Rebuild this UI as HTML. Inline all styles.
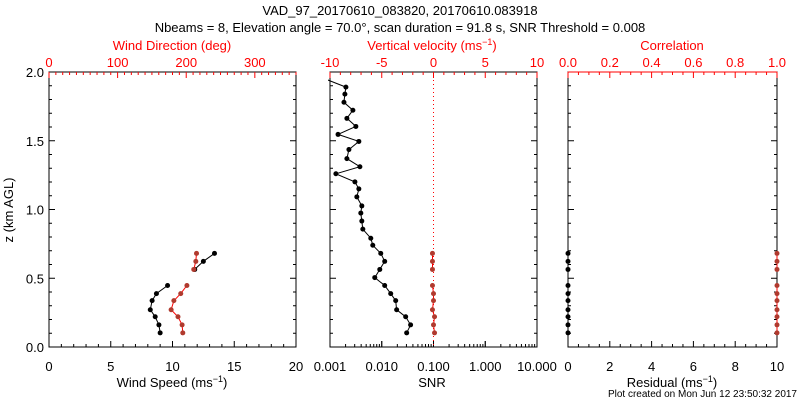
<!DOCTYPE html>
<html><head><meta charset="utf-8"><style>
body{margin:0;background:#fff;}
svg{display:block;font-family:"Liberation Sans",sans-serif;}
</style></head><body>
<svg id="c" width="800" height="400"></svg>
<script>
const heights=[0.103,0.161,0.220,0.271,0.337,0.388,0.447,0.564,0.623,0.681];
const windSpeed=[9.0,8.9,8.6,8.2,8.35,8.7,9.6,11.8,12.5,13.4];
const windDir=[195,194,188,178,182,192,201,211,214,215];
const vertVel=[0.1,0,0.1,-0.1,0,0,-0.1,-0.1,-0.1,-0.1];
const correlation=[1,1,1,1,1,1,1,1,1,1];
const residual=[0,0,0,0,0,0,0,0,0,0];
const snrHeights=[1.95,1.890,1.839,1.780,1.722,1.663,1.604,1.546,1.495,1.436,1.370,1.311,1.260,1.201,1.150,1.092,1.026,0.974,0.916,0.857,0.791,0.740,0.681,0.623,0.564,0.505,0.447,0.388,0.337,0.271,0.220,0.161,0.103];
const snrValues=[0.0008,0.00203,0.00194,0.00186,0.00277,0.00212,0.00316,0.00143,0.00361,0.00232,0.00212,0.00378,0.00130,0.00303,0.00361,0.00330,0.00412,0.00394,0.00412,0.00431,0.00614,0.00671,0.00957,0.0114,0.00916,0.00733,0.0114,0.0149,0.0186,0.0194,0.0290,0.0361,0.0303];
const yTicks=["0.0","0.5","1.0","1.5","2.0"];

const NS="http://www.w3.org/2000/svg";
const svg=document.getElementById('c');
const Y0=347,Y1=72;
const yS=z=>Y0-(z/2)*(Y0-Y1);
function el(t,a,p){const e=document.createElementNS(NS,t);for(const k in a)e.setAttribute(k,a[k]);(p||svg).appendChild(e);return e;}
function txt(x,y,s,o){o=o||{};const e=el('text',{x:x,y:y,'font-size':o.fs||13,fill:o.fill||'#000','text-anchor':o.anchor||'middle'});e.textContent=s;return e;}
function line(x1,y1,x2,y2,c,w,d){const e=el('line',{x1,y1,x2,y2,stroke:c||'#000','stroke-width':w||1});if(d)e.setAttribute('stroke-dasharray',d);return e;}

let t=txt(400,15,"VAD_97_20170610_083820, 20170610.083918");

t=txt(400,32,"Nbeams = 8, Elevation angle = 70.0°, scan duration = 91.8 s, SNR Threshold = 0.008");


const panels=[{x0:49,x1:296},{x0:330,x1:537},{x0:568,x1:777}];
panels.forEach((p,i)=>{
  const g=el('rect',{x:p.x0,y:Y1,width:p.x1-p.x0,height:Y0-Y1,fill:'none',stroke:'#000','stroke-width':1});
  
  for(let k=0;k<=20;k++){const z=k*0.1,y=yS(z),L=(k%5==0)?6:3;line(p.x0,y,p.x0+L,y);line(p.x1,y,p.x1-L,y);}
});
yTicks.forEach(s=>{const e=txt(44,yS(parseFloat(s))+5,s,{anchor:'end'});});
t=el('text',{x:0,y:0,'font-size':13,'text-anchor':'middle',transform:'translate(13,210) rotate(-90)'});t.textContent='z (km AGL)';


function linAxis(x0,x1,vmin,vmax,major,minor,y,dir,col,labels,fmt){
  const s=v=>x0+(v-vmin)/(vmax-vmin)*(x1-x0);
  const n=Math.round((vmax-vmin)/minor);
  for(let k=0;k<=n;k++){const v=vmin+k*minor;const isM=Math.abs(((v-vmin)/major)-Math.round((v-vmin)/major))<1e-6;line(s(v),y,s(v),y+dir*(isM?6:3),col);}
  const m=Math.round((vmax-vmin)/major);
  for(let k=0;k<=m;k++){const v=vmin+k*major;const e=txt(s(v),dir>0?y-5:y+24,fmt(v),{fill:col});}
  return s;
}
const xWS=linAxis(49,296,0,20,5,1,Y0,-1,'#000',null,v=>String(v));
const xWD=linAxis(49,296,0,360,100,10,Y1,1,'#f00',null,v=>String(v));
svg.lastChild.remove();
const xW=linAxis(330,537,-10,10,5,1,Y1,1,'#f00',null,v=>String(v));
const lmin=-3,lmax=1;
const xSNR=v=>330+(Math.log10(v)-lmin)/(lmax-lmin)*(537-330);
for(let d=lmin;d<lmax;d++){for(let k=1;k<=10;k++){const v=k*Math.pow(10,d);line(xSNR(v),Y0,xSNR(v),Y0-(k==1||k==10?6:3));}}
["0.001","0.010","0.100","1.000","10.000"].forEach(s=>{const e=txt(xSNR(parseFloat(s)),Y0+24,s);});
const xR=linAxis(568,777,0,10,2,0.5,Y0,-1,'#000',null,v=>String(v));
const xC=linAxis(568,777,0,1,0.2,0.05,Y1,1,'#f00',null,v=>v.toFixed(1));
line(568,Y1,777,Y1,'#f00');

[[172,387,'Wind Speed (ms','#000','wind-speed-title'],[172,50,'Wind Direction (deg)','#f00','wind-direction-title'],
 [432,50,'Vertical velocity (ms','#f00','vertical-velocity-title'],[432,387,'SNR','#000','snr-title'],
 [672,50,'Correlation','#f00','correlation-title'],[672,387,'Residual (ms','#000','residual-title']].forEach(a=>{
  const e=txt(a[0],a[1],'',{fill:a[3]});
  if(a[2].endsWith('(ms')){e.textContent=a[2];const ts=el('tspan',{dy:-5,'font-size':9},e);ts.textContent='−1';const t2=el('tspan',{dy:5},e);t2.textContent=')';}
  else e.textContent=a[2];
});
t=txt(797,397,'Plot created on Mon Jun 12 23:50:32 2017',{fs:10,anchor:'end'});


const zl=line(xW(0),Y1,xW(0),Y0,'#f00',1,'1,3');


function series(xs,zs,xf,col,lineCol,name,clip){
  const g=el('g',{});
  if(clip)g.setAttribute('clip-path','url(#mclip)');
  let d='';xs.forEach((v,i)=>{d+=(i?'L':'M')+xf(v).toFixed(1)+','+yS(zs[i]).toFixed(1);});
  el('path',{d:d,fill:'none',stroke:lineCol,'stroke-width':1},g);
  xs.forEach((v,i)=>{const c=el('circle',{cx:xf(v),cy:yS(zs[i]),r:2.5,fill:col},g);});
}
const defs=el('defs',{});const cp=el('clipPath',{id:'mclip'},defs);el('rect',{x:328,y:70,width:212,height:280},cp);
const lo=[0,1,2,3,4,5,6],hi=[7,8,9];
[lo,hi].forEach((idx,j)=>{
  const z=idx.map(i=>heights[i]);
  series(idx.map(i=>windSpeed[i]),z,xWS,'#000','#000','wind-speed-series');
  series(idx.map(i=>windDir[i]),z,xWD,'#b03a2e','#f00','wind-direction-series');
  series(idx.map(i=>vertVel[i]),z,xW,'#b03a2e','#f00','vertical-velocity-series');
  series(idx.map(i=>residual[i]),z,xR,'#000','#000','residual-series');
  series(idx.map(i=>correlation[i]),z,xC,'#b03a2e','#f00','correlation-series');
});
series(snrValues,snrHeights,xSNR,'#000','#000','snr-series',true);
</script>
</body></html>
